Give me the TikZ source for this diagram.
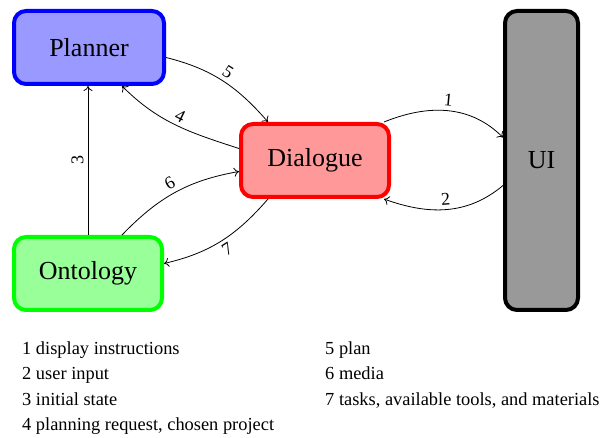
\documentclass[tikz,border=0pt]{standalone}
\usepackage{fontspec}
\setmainfont{Liberation Serif}
\usetikzlibrary{arrows.meta}
\begin{document}
\begin{tikzpicture}[x=1pt,y=1pt,
  box/.style={rounded corners=12pt, line width=4pt, minimum width=148pt, minimum height=73pt, font=\fontsize{26}{30}\selectfont},
  conn/.style={-{To[length=5pt,width=9pt]}, line width=0.8pt},
  lbl/.style={font=\fontsize{18}{20}\selectfont, sloped, inner sep=4pt},
  legend/.style={anchor=base west, inner sep=0pt, font=\fontsize{18.4}{22}\selectfont}]
\useasboundingbox (0,0) rectangle (603,437);
\node[box, draw=blue, fill=blue!40, minimum width=150pt] (P) at (89,389.5) {Planner};
\node[box, draw=red, fill=red!40] (D) at (315,276.5) {Dialogue};
\node[box, draw=green, fill=green!40] (O) at (88,163.5) {Ontology};
\node[box, draw=black, fill=black!40, minimum width=73pt, minimum height=299pt] (U) at (541.5,276.5) {UI};
% edges
\draw[conn] ([yshift=-10pt]P.east) to[out=-14,in=131] node[lbl, above] {5} ([xshift=-47pt]D.north);
\draw[conn] ([yshift=12pt]D.west) to[out=162,in=-45] node[lbl, above] {4} ([xshift=33pt]P.south);
\draw[conn] (O.north) -- (O.north |- P.south) node[lbl, above, midway] {3};
\draw[conn] ([xshift=34pt]O.north) to[out=46,in=190] node[lbl, above] {6} ([yshift=-11pt]D.west);
\draw[conn] ([xshift=-47pt]D.south) to[out=-131,in=13] node[lbl, below] {7} ([yshift=10pt]O.east);
\draw[conn] ([xshift=-7pt]D.north east) to[out=22,in=135] node[lbl, above] {1} ([yshift=23pt]U.west);
\draw[conn] ([yshift=-25pt]U.west) to[out=-140,in=-20] node[lbl, above] {2} ([xshift=-7pt]D.south east);
% legend
\node[legend] (l1) at (22,82) {1 display instructions};
\node[legend] (l2) at (22,57) {2 user input};
\node[legend] (l3) at (22,32) {3 initial state};
\node[legend] (l4) at (22,7) {4 planning request, chosen project};
\node[legend] (l5) at (325,82) {5 plan};
\node[legend] (l6) at (325,57) {6 media};
\node[legend] (l7) at (325,32) {7 tasks, available tools, and materials};
\end{tikzpicture}
\end{document}
